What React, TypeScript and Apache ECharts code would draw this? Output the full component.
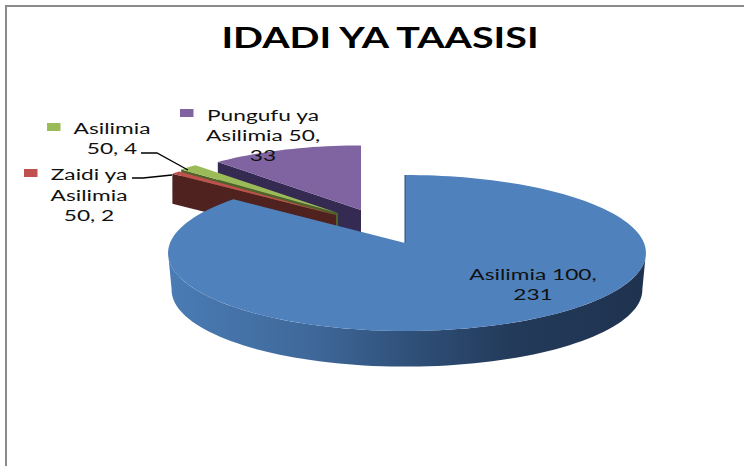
import React, { useEffect, useRef } from "react";
import * as echarts from "echarts";

const titleText = "IDADI YA TAASISI";
const categories = ["Asilimia 100", "Zaidi ya Asilimia 50", "Asilimia 50", "Pungufu ya Asilimia 50"];
const values = [231, 2, 4, 33];
const labelLines = [
  ["Asilimia 100,", "231"],
  ["Zaidi ya", "Asilimia", "50, 2"],
  ["Asilimia", "50, 4"],
  ["Pungufu ya", "Asilimia 50,", "33"],
];

const FONT = "Lato, 'Noto Sans', sans-serif";
const RX = 237;
const RY = 76.7;
const K = 0.128;
const DEPTH = 37;

const sliceStyle = [
  { apex: [405, 243], scale: 1, top: "#4f81bd", wall: "#2f4f78", depth: DEPTH, z: 40, skew: 2 },
  { apex: [336, 215], scale: 0.945, top: "#c0504d", wall: "#4f211f", depth: 30, z: 30, skew: 0 },
  { apex: [338, 213], scale: 0.945, top: "#9bbb59", wall: "#4f6228", depth: 30, z: 20, skew: 0 },
  { apex: [361, 210], scale: 0.95, top: "#8064a2", wall: "#352a52", depth: 30, z: 10, skew: 0 },
];
const labelStyle = [
  { x: 533, y: 274, lh: 20, key: null },
  { x: 89, y: 174, lh: 20.5, key: [24, 169] },
  { x: 112, y: 128, lh: 20, key: [47, 123] },
  { x: 263, y: 115, lh: 20, key: [180, 109] },
];
const leaders: (number[][] | null)[] = [
  null,
  [[132, 178], [143, 178], [172, 175]],
  [[141, 153], [157, 153], [188, 170]],
  null,
];

const project = (deg: number, s: number, o: number[], skew: number) => {
  const r = (deg * Math.PI) / 180;
  const u = Math.sin(r);
  const v = Math.cos(r);
  const d = 1 + K * v;
  return [o[0] + (RX * u * s) / d + skew * Math.abs(u), o[1] - (RY * v * s) / d];
};

const arc = (a0: number, a1: number, s: number, o: number[], skew: number) => {
  const pts: number[][] = [];
  const n = Math.max(2, Math.ceil(Math.abs(a1 - a0) / 2));
  for (let i = 0; i <= n; i++) pts.push(project(a0 + ((a1 - a0) * i) / n, s, o, skew));
  return pts;
};

export default function App() {
  const ref = useRef<HTMLDivElement>(null);
  useEffect(() => {
    const chart = echarts.init(ref.current!, null, { renderer: "svg" });
    const total = values.reduce((a, b) => a + b, 0);

    const renderItem = (params: any, api: any) => {
      const i = params.dataIndex;
      const before = values.slice(0, i).reduce((a, b) => a + b, 0);
      const a0 = (before / total) * 360;
      const a1 = a0 + (api.value(0) / total) * 360;
      const st = sliceStyle[i];
      const children: any[] = [];
      const low = [st.apex[0], st.apex[1] + st.depth];

      if (i === 0) {
        // outer rim of the big slice, from the two silhouette points of the ellipse
        const lowS = 0.985;
        const topArc = arc(97, 263, 1, st.apex, st.skew);
        const botArc = arc(263, 97, lowS, low, st.skew);
        children.push({
          type: "polygon",
          z2: st.z,
          shape: { points: [...topArc, ...botArc] },
          style: {
            fill: new echarts.graphic.LinearGradient(0, 0, 1, 0, [
              { offset: 0, color: "#4a7cb5" },
              { offset: 0.3, color: "#3f689a" },
              { offset: 0.5, color: "#30517a" },
              { offset: 0.72, color: "#233a5a" },
              { offset: 1, color: "#1f3350" },
            ]),
          },
        });
      } else {
        // cut face that looks towards the viewer
        const o = project(a0, st.scale, st.apex, st.skew);
        children.push({
          type: "polygon",
          z2: st.z,
          shape: { points: [o, st.apex, low, [o[0], o[1] + st.depth]] },
          style: { fill: st.wall },
        });
      }
      const topPts = [st.apex, ...arc(a0, a1, st.scale, st.apex, st.skew)];
      children.push({
        type: "polygon",
        z2: st.z + 1,
        shape: { points: topPts },
        style: { fill: st.top },
      });
      if (i === 0) {
        children.push({
          type: "line",
          z2: st.z + 1,
          shape: { x1: st.apex[0], y1: st.apex[1] - 68, x2: st.apex[0], y2: st.apex[1] },
          style: { stroke: "#274a75", lineWidth: 1 },
        });
      }

      const lb = labelStyle[i];
      if (lb.key) {
        children.push({
          type: "rect",
          z2: 60,
          shape: { x: lb.key[0], y: lb.key[1], width: 13.5, height: 8 },
          style: { fill: st.top },
        });
      }
      const lead = leaders[i];
      if (lead) {
        children.push({
          type: "polyline",
          z2: 60,
          shape: { points: lead },
          style: { stroke: "#000", lineWidth: 1.3, fill: "none" },
        });
      }
      labelLines[i].forEach((t, j) => {
        children.push({
          type: "text",
          z2: 70,
          x: lb.x,
          y: lb.y + j * lb.lh,
          scaleX: 1.42,
          style: {
            text: t,
            x: 0,
            y: 0,
            align: "center",
            verticalAlign: "middle",
            fill: "#111",
            font: `16px ${FONT}`,
          },
        });
      });
      return { type: "group", children };
    };

    chart.setOption({
      animation: false,
      backgroundColor: "#fff",
      graphic: [
        { type: "rect", shape: { x: 5, y: 5, width: 739, height: 2 }, style: { fill: "#8a8a8a" }, silent: true },
        { type: "rect", shape: { x: 5, y: 5, width: 2, height: 461 }, style: { fill: "#8a8a8a" }, silent: true },
        {
          type: "text",
          x: 380,
          y: 37,
          scaleX: 1.36,
          silent: true,
          style: {
            text: titleText,
            x: 0,
            y: 0,
            align: "center",
            verticalAlign: "middle",
            fill: "#000",
            font: `bold 29px ${FONT}`,
          },
        },
      ],
      series: [
        {
          type: "custom",
          coordinateSystem: "none",
          silent: true,
          renderItem,
          data: values.map((v, i) => ({ name: categories[i], value: [v] })),
        },
      ],
    });
    return () => chart.dispose();
  }, []);
  return <div ref={ref} style={{ position: "absolute", left: 0, top: 0, width: 744, height: 466 }} />;
}
